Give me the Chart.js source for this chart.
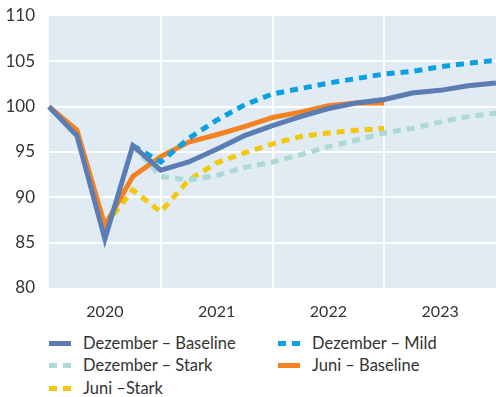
<!DOCTYPE html>
<html>
<head>
    <title>Szenarien</title>
    <script src="https://cdn.jsdelivr.net/npm/chart.js"></script>
    <style>
        body { margin: 0; background: #fff; font-family: Lato, "Open Sans", sans-serif; }
        #wrap { position: relative; width: 496px; height: 397px; }
        #legend { position: absolute; left: 0; top: 333px; width: 496px; }
        .item { position: absolute; font-size: 16.5px; color: #333; white-space: nowrap; line-height: 20px; }
        .item span.swatch { position: absolute; top: 8px; width: 22px; height: 0; border-top-width: 5px; }
        .item span.txt { position: absolute; left: 34px; top: 0; }
    </style>
</head>
<body>
<div id="wrap">
    <canvas id="chart" width="496" height="330"></canvas>
    <div id="legend"></div>
</div>
<script>
const quarters = ['2019Q4', '2020Q1', '2020Q2', '2020Q3', '2020Q4', '2021Q1', '2021Q2', '2021Q3', '2021Q4',
                  '2022Q1', '2022Q2', '2022Q3', '2022Q4', '2023Q1', '2023Q2', '2023Q3', '2023Q4'];
const yearLabels = { '2020Q2': '2020', '2021Q2': '2021', '2022Q2': '2022', '2023Q2': '2023' };

const dezBaseline = [100, 96.8, 85.4, 95.7, 93.0, 93.9, 95.3, 96.8, 97.9, 98.9, 99.8, 100.4, 100.8, 101.5, 101.8, 102.3, 102.6];
const dezMild     = [null, null, null, 95.7, 93.9, 96.5, 98.5, 100.2, 101.4, 102.0, 102.6, 103.1, 103.6, 103.9, 104.4, 104.8, 105.1];
const dezStark    = [null, null, null, 95.7, 92.3, 91.9, 92.4, 93.3, 93.9, 94.7, 95.6, 96.3, 97.1, 97.6, 98.3, 98.9, 99.3];
const juniBaseline = [100, 97.4, 86.9, 92.3, 94.5, 96.1, 96.9, 97.8, 98.8, 99.4, 100.1, 100.4, 100.4, null, null, null, null];
const juniStark   = [null, null, 86.9, 90.8, 88.4, 91.9, 93.8, 94.9, 95.9, 96.7, 97.1, 97.4, 97.6, null, null, null, null];

const series = [
    { label: 'Dezember \u2013 Baseline', data: dezBaseline, color: '#5b7db3', dash: [] },
    { label: 'Dezember \u2013 Mild', data: dezMild, color: '#0aa0e2', dash: [8, 6] },
    { label: 'Dezember \u2013 Stark', data: dezStark, color: '#acd9d6', dash: [8, 6] },
    { label: 'Juni \u2013 Baseline', data: juniBaseline, color: '#f28222', dash: [] },
    { label: 'Juni \u2013Stark', data: juniStark, color: '#f2c80c', dash: [8, 6] }
];

const plotBg = {
    id: 'plotBg',
    beforeDraw(chart) {
        const a = chart.chartArea;
        const ctx = chart.ctx;
        ctx.save();
        ctx.fillStyle = '#e1ebf4';
        ctx.fillRect(a.left, a.top, a.right - a.left, a.bottom - a.top);
        ctx.restore();
    }
};

new Chart(document.getElementById('chart'), {
    type: 'line',
    data: {
        labels: quarters,
        datasets: series.map(s => ({
            label: s.label,
            data: s.data,
            borderColor: s.color,
            backgroundColor: s.color,
            borderWidth: 5,
            borderDash: s.dash,
            borderCapStyle: 'butt',
            pointRadius: 0,
            tension: 0,
            fill: false
        }))
    },
    options: {
        responsive: false,
        animation: false,
        layout: { padding: { top: 16, right: 0, left: 0, bottom: 0 } },
        plugins: { legend: { display: false }, tooltip: { enabled: false } },
        scales: {
            x: {
                type: 'category',
                offset: false,
                border: { display: false },
                grid: {
                    drawTicks: false,
                    lineWidth: 2,
                    color: ctx => (ctx.index > 0 && ctx.index < 16 && ctx.index % 4 === 0) ? '#ffffff' : 'rgba(0,0,0,0)'
                },
                ticks: {
                    autoSkip: false,
                    maxRotation: 0,
                    padding: 14,
                    color: '#333',
                    font: { family: 'Lato', size: 16 },
                    callback: function (v, i) { return yearLabels[quarters[i]] || ''; }
                },
                afterFit(scale) {
                    scale.height = 42;
                    scale.paddingLeft = 0;
                    scale.paddingRight = 0;
                }
            },
            y: {
                min: 80,
                max: 110,
                border: { display: false },
                grid: {
                    drawTicks: false,
                    lineWidth: 2,
                    color: ctx => (ctx.tick && (ctx.tick.value === 80 || ctx.tick.value === 110)) ? 'rgba(0,0,0,0)' : '#ffffff'
                },
                ticks: {
                    stepSize: 5,
                    padding: 14,
                    color: '#333',
                    font: { family: 'Lato', size: 17 }
                },
                afterFit(scale) {
                    scale.width = 49;
                    scale.paddingTop = 0;
                    scale.paddingBottom = 0;
                }
            }
        }
    },
    plugins: [plotBg]
});

// legend below the chart, two columns
const legend = document.getElementById('legend');
const legendPos = [[49, 0], [278, 0], [49, 22], [278, 22], [49, 45]];
series.forEach((s, i) => {
    const item = document.createElement('div');
    item.className = 'item';
    item.style.left = legendPos[i][0] + 'px';
    item.style.top = legendPos[i][1] + 'px';
    const sw = document.createElement('span');
    sw.className = 'swatch';
    sw.style.borderTopStyle = 'solid';
    sw.style.borderTopColor = s.color;
    if (s.dash.length) {
        sw.style.borderTop = 'none';
        sw.style.height = '5px';
        sw.style.background = 'linear-gradient(to right, ' + s.color + ' 0 8px, transparent 8px 14px, ' + s.color + ' 14px 22px)';
    }
    const tx = document.createElement('span');
    tx.className = 'txt';
    tx.textContent = s.label;
    item.appendChild(sw);
    item.appendChild(tx);
    legend.appendChild(item);
});
</script>
</body>
</html>
